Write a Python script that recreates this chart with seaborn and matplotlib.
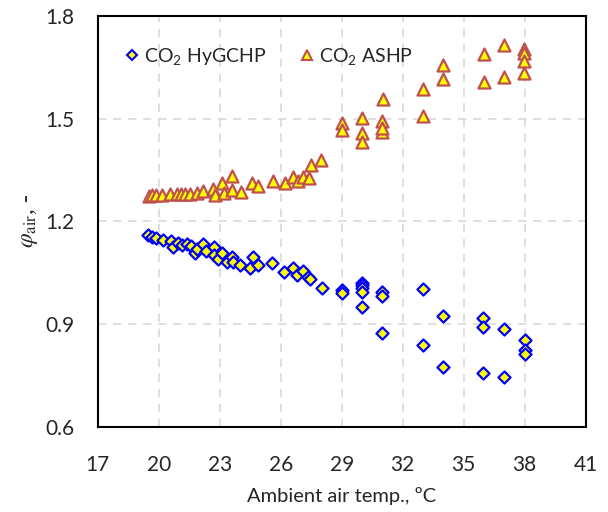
import matplotlib
matplotlib.use("Agg")
import matplotlib.pyplot as plt
import seaborn as sns
import numpy as np

# CO2 hybrid ground-coupled heat pump (blue diamonds)
hy_temp = [19.48, 19.64, 19.84, 20.19, 20.59, 20.68, 20.95, 21.12, 21.37, 21.58,
           21.78, 21.89, 22.18, 22.32, 22.71, 22.71, 22.92, 23.09, 23.34, 23.58,
           23.63, 23.99, 24.48, 24.62, 24.89, 25.55, 26.16, 26.59, 26.78, 27.11,
           27.35, 27.44, 28.01, 29.0, 29.0, 29.98, 29.98, 29.98, 29.98, 29.98,
           31.0, 31.0, 31.0, 33.02, 33.02, 34.0, 34.0, 35.97, 35.97, 35.97,
           36.99, 36.99, 38.01, 38.01, 38.01]
hy_phi = [1.161, 1.156, 1.151, 1.146, 1.144, 1.125, 1.136, 1.131, 1.134, 1.128,
          1.107, 1.119, 1.134, 1.115, 1.126, 1.102, 1.090, 1.109, 1.083, 1.095,
          1.083, 1.073, 1.063, 1.095, 1.073, 1.078, 1.053, 1.063, 1.044, 1.056,
          1.039, 1.032, 1.005, 1.000, 0.990, 1.021, 1.015, 1.005, 0.995, 0.949,
          0.995, 0.982, 0.874, 1.003, 0.839, 0.925, 0.774, 0.919, 0.893, 0.759,
          0.885, 0.747, 0.854, 0.825, 0.813]

# CO2 air source heat pump (orange triangles)
ashp_temp = [19.51, 19.64, 19.84, 20.17, 20.55, 20.87, 21.09, 21.28, 21.53, 21.86,
             22.18, 22.68, 22.76, 23.09, 23.22, 23.58, 23.58, 24.04, 24.57, 24.89,
             25.60, 26.21, 26.59, 26.83, 27.11, 27.40, 27.49, 27.98, 29.0, 29.0,
             30.01, 30.01, 30.01, 31.0, 31.0, 31.0, 31.02, 32.99, 32.99, 34.0,
             34.0, 36.0, 36.0, 36.99, 36.99, 37.98, 37.98, 37.98, 37.98]
ashp_phi = [1.275, 1.277, 1.277, 1.277, 1.279, 1.279, 1.280, 1.280, 1.280, 1.282,
            1.290, 1.294, 1.277, 1.312, 1.282, 1.333, 1.292, 1.287, 1.312, 1.304,
            1.319, 1.313, 1.329, 1.319, 1.329, 1.326, 1.365, 1.380, 1.487, 1.467,
            1.501, 1.459, 1.433, 1.494, 1.462, 1.472, 1.557, 1.587, 1.508, 1.657,
            1.616, 1.688, 1.606, 1.715, 1.621, 1.703, 1.691, 1.669, 1.634]

x_ticks = [17, 20, 23, 26, 29, 32, 35, 38, 41]
y_ticks = [0.6, 0.9, 1.2, 1.5, 1.8]

sns.set_style("white")
plt.rcParams['font.family'] = ['Lato', 'DejaVu Sans']
plt.rcParams['mathtext.fontset'] = 'custom'
plt.rcParams['mathtext.rm'] = 'Lato'
plt.rcParams['mathtext.it'] = 'Lato:italic'

fig = plt.figure(figsize=(6.08, 5.12), dpi=100)
ax = fig.add_axes([0.161, 0.166, 0.802, 0.803])

sns.scatterplot(x=ashp_temp, y=ashp_phi, marker='^', s=75, color='yellow',
                edgecolor='#C0504D', linewidth=1.6, ax=ax, zorder=3)
sns.scatterplot(x=hy_temp, y=hy_phi, marker='D', s=38, color='yellow',
                edgecolor='blue', linewidth=1.6, ax=ax, zorder=4)

ax.set_xlim(17, 41)
ax.set_ylim(0.6, 1.8)
ax.set_xticks(x_ticks)
ax.set_yticks(y_ticks)
ax.set_yticklabels([f"{v:.1f}" for v in y_ticks])
ax.grid(True, linestyle=(0, (5, 4)), color='#D9D9D9', linewidth=1.2)
ax.set_axisbelow(True)
for sp in ax.spines.values():
    sp.set_color('black')
    sp.set_linewidth(1.5)
ax.tick_params(axis='both', length=0, labelsize=15)
ax.tick_params(axis='x', pad=20)
ax.tick_params(axis='y', pad=17)

ax.set_xlabel("Ambient air temp., ºC", fontsize=14.5, labelpad=9)
ax.set_ylabel(r"$\varphi_{\mathrm{air}}$, -", fontsize=17,
              fontfamily='Liberation Serif', math_fontfamily='stix', labelpad=4)

h1 = plt.Line2D([], [], marker='D', linestyle='none', markersize=5,
                markerfacecolor='yellow', markeredgecolor='blue', markeredgewidth=1.5)
h2 = plt.Line2D([], [], marker='^', linestyle='none', markersize=6.5,
                markerfacecolor='yellow', markeredgecolor='#C0504D', markeredgewidth=1.5)
ax.legend([h1, h2], [r"CO$_2$ HyGCHP", r"CO$_2$ ASHP"], loc='upper left',
          ncol=2, frameon=False, fontsize=14, handletextpad=0.1,
          columnspacing=1.6, handlelength=1.0, bbox_to_anchor=(0.015, 0.97))

fig.savefig("out.png", dpi=100)
